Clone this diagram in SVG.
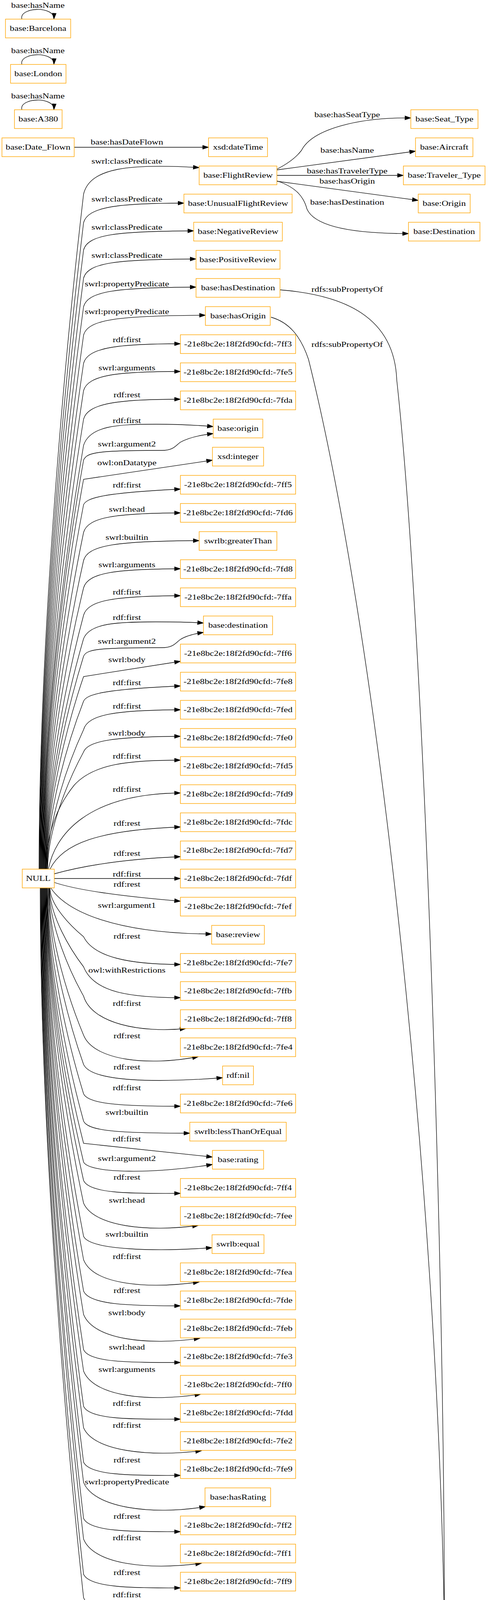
<svg xmlns="http://www.w3.org/2000/svg" width="1265" height="4439" viewBox="0 0 1265 4439">
<style>
text{font-family:"Liberation Serif","Times New Roman",serif;font-size:18.67px;text-anchor:middle;fill:#000}
.n rect{fill:#fff;stroke:#ffa500;stroke-width:1.4}
#edges path{fill:none;stroke:#000;stroke-width:1.3;marker-end:url(#a)}
</style>
<defs>
<marker id="a" markerWidth="15" markerHeight="10" refX="15" refY="5" orient="auto" markerUnits="userSpaceOnUse" overflow="visible"><path d="M0,0 L15,5 L0,10 z" fill="#000" stroke="#000" stroke-width="1"/></marker>
</defs>
<rect width="1265" height="4439" fill="#fff"/>
<g id="edges">
<path d="M56,49 C48,18 140,14 138,49"/>
<path d="M56,165 C48,134 140,130 138,165"/>
<path d="M56,281 C48,250 140,246 138,281"/>
<path d="M190,377 L534,377"/>
<path d="M709,433 C745,415 762,398 772,385 C800,330 920,300 1052,302"/>
<path d="M709,435 L1064,387"/>
<path d="M709,449 L1033,449"/>
<path d="M709,464 L1071,513"/>
<path d="M709,463 C760,480 778,505 786,535 C810,590 950,598 1046,598"/>
<path d="M717,742 C880,755 1010,810 1016,973 C1085,1600 1138,3200 1138,4169"/>
<path d="M694,812 C740,825 770,860 790,920 C960,1600 1120,3000 1138,4169"/>
<path d="M691,4193 L1018,4193"/>
<path d="M707,4254 C800,4238 900,4230 1018,4216"/>
<path d="M726,4327 C850,4300 1040,4260 1100,4217"/>
<path d="M165,4409 L464,4409"/>
<path d="M100,2225 C100,1620 169.5,877 214,497 C230,430 330,418 510,429"/>
<path d="M101,2225 C101,1646 170,934 214,570 C225,530 300,520 471,520"/>
<path d="M102,2225 C102,1670 170.3,989 214,640 C225,600 300,592 496,591"/>
<path d="M103,2225 C103,1695 170.7,1045 214,712 C225,672 300,664 502,663"/>
<path d="M104,2225 C104,1721 171,1102 214,785 C225,745 300,736 502,735"/>
<path d="M105,2225 C105,1747 171.5,1159 214,858 C225,818 300,808 526,807"/>
<path d="M106,2225 C106,1772 172,1215 214,930 C225,890 300,880 462,880"/>
<path d="M107,2225 C107,1796 172.3,1269.5 214,1000 C225,960 300,951 462,951"/>
<path d="M108,2225 C108,1822 172.7,1326 214,1073 C225,1033 300,1022 462,1022"/>
<path d="M109,2225 C109,1845 173,1379 214,1140 C230,1090 300,1086 400,1086 C470,1086 510,1089 546,1092"/>
<path d="M110,2225 C110,1859 173.4,1408 214,1178 C222,1158 250,1153 415,1153 C445,1153 450,1140 462,1132 C480,1122 510,1114 546,1110"/>
<path d="M111,2225 C111,1876 173.8,1447 214,1227 L544,1178"/>
<path d="M112,2225 C112,1898 174.2,1497 214,1292 C222,1275 260,1262 462,1252"/>
<path d="M113,2225 C113,1923 174.6,1553 214,1363 C225,1323 300,1314 462,1313"/>
<path d="M114,2225 C114,1948 175,1609 214,1435 C225,1395 300,1385 510,1384"/>
<path d="M115,2225 C115,1973 175.4,1663 214,1505 C225,1465 300,1457 462,1456"/>
<path d="M116,2225 C116,1997 175.8,1718 214,1575 C225,1535 300,1526 462,1525"/>
<path d="M117,2225 C117,2018 176.2,1765 214,1635 C230,1595 300,1592 400,1592 C460,1592 495,1593 521,1595"/>
<path d="M118,2225 C118,2034 176.6,1800 214,1680 C222,1662 250,1658 415,1658 C445,1658 450,1645 462,1637 C478,1627 500,1622 521,1619"/>
<path d="M119,2225 C119,2052 177,1840 214,1732 L462,1693"/>
<path d="M120,2225 C120,2074 177.3,1890 214,1795 C222,1778 260,1765 462,1756"/>
<path d="M121,2225 C121,2100 177.7,1946 214,1868 C225,1828 300,1818 462,1817"/>
<path d="M122,2225 C122,2120 178,1991 214,1925 C225,1895 300,1886 462,1885"/>
<path d="M116,2225 C122,2120 150,2060 190,2010 C240,1955 330,1946 462,1946"/>
<path d="M124,2225 C140,2140 220,2032 462,2030"/>
<path d="M128,2225 C160,2160 250,2125 462,2117"/>
<path d="M139,2237 C200,2220 300,2200 462,2193"/>
<path d="M139,2249 L462,2249"/>
<path d="M139,2259 C200,2280 330,2296 462,2307"/>
<path d="M130,2273 C170,2335 300,2390 542,2391"/>
<path d="M128,2273 C128,2317 180.5,2370.5 214,2398 C240,2450 330,2469 462,2469"/>
<path d="M127,2273 C127,2343.7 180,2430.6 214,2475 C240,2540 330,2554 462,2554"/>
<path d="M126,2273 C126,2370 179.7,2489 214,2550 C235,2620 360,2645 476,2633"/>
<path d="M125,2273 C125,2405 179.3,2567 214,2650 C240,2715 380,2730 508,2705"/>
<path d="M124,2273 C124,2431 179,2625.6 214,2725 C235,2770 400,2772 570,2759"/>
<path d="M122,2273 C122,2457.5 178.1,2684 214,2800 C225,2825 300,2832 462,2832"/>
<path d="M121,2273 C121,2482 177.7,2739 214,2870 C225,2895 300,2901 486,2901"/>
<path d="M120,2273 C120,2502 177.3,2783 214,2927 L544,2962"/>
<path d="M119,2273 C119,2518.7 177,2820.6 214,2975 C230,3005 400,3005 544,2981"/>
<path d="M118,2273 C118,2535 176.6,2857 214,3022 C228,3055 330,3056 462,3055"/>
<path d="M117,2273 C117,2555.5 176.2,2902.5 214,3080 C240,3140 380,3155 508,3137"/>
<path d="M116,2273 C116,2585 175.8,2969 214,3165 C230,3200 400,3205 543,3194"/>
<path d="M115,2273 C115,2606 175.4,3015.6 214,3225 C240,3290 380,3300 510,3282"/>
<path d="M114,2273 C114,2634 175,3078 214,3305 C228,3340 330,3343 462,3343"/>
<path d="M113,2273 C113,2655 174.6,3124.8 214,3365 C240,3430 380,3445 512,3426"/>
<path d="M112,2273 C112,2687 174.2,3195 214,3455 C228,3488 330,3488 462,3488"/>
<path d="M111,2273 C111,2706 173.8,3238 214,3510 C240,3575 380,3590 514,3569"/>
<path d="M110,2273 C110,2737.5 173.4,3308 214,3600 C228,3633 330,3634 462,3633"/>
<path d="M109,2273 C109,2756.7 173,3351 214,3655 C240,3715 380,3730 516,3714"/>
<path d="M108,2273 C108,2787.5 172.7,3419.6 214,3743 C228,3776 330,3778 462,3777"/>
<path d="M107,2273 C107,2805.7 172.3,3460 214,3795 C240,3860 390,3880 526,3857"/>
<path d="M106,2273 C106,2838 172,3532 214,3887 C228,3920 330,3922 462,3921"/>
<path d="M105,2273 C105,2856.5 171.5,3573 214,3940 C240,4005 380,4020 516,4002"/>
<path d="M104,2273 C104,2888 171,3643.5 214,4030 C228,4063 330,4066 462,4065"/>
<path d="M103,2273 C103,2909 170.7,3690 214,4090 C240,4150 380,4170 519,4145"/>
</g>
<g id="edge-labels">
<text transform="translate(97,20) scale(1.27,1)">base:hasName</text>
<text transform="translate(97,136) scale(1.27,1)">base:hasName</text>
<text transform="translate(97,252) scale(1.27,1)">base:hasName</text>
<text transform="translate(889,300) scale(1.27,1)">base:hasSeatType</text>
<text transform="translate(325,370) scale(1.27,1)">base:hasDateFlown</text>
<text transform="translate(889,391) scale(1.27,1)">base:hasName</text>
<text transform="translate(889,444) scale(1.27,1)">base:hasTravelerType</text>
<text transform="translate(889,470) scale(1.27,1)">base:hasOrigin</text>
<text transform="translate(889,524) scale(1.27,1)">base:hasDestination</text>
<text transform="translate(889,747) scale(1.27,1)">rdfs:subPropertyOf</text>
<text transform="translate(889,888) scale(1.27,1)">rdfs:subPropertyOf</text>
<text transform="translate(889,4188) scale(1.27,1)">rdfs:subPropertyOf</text>
<text transform="translate(889,4214) scale(1.27,1)">rdfs:subPropertyOf</text>
<text transform="translate(889,4267) scale(1.27,1)">rdfs:subPropertyOf</text>
<text transform="translate(325,4404) scale(1.27,1)">base:hasRating</text>
<text transform="translate(325,419) scale(1.27,1)">swrl:classPredicate</text>
<text transform="translate(325,516) scale(1.27,1)">swrl:classPredicate</text>
<text transform="translate(325,588) scale(1.27,1)">swrl:classPredicate</text>
<text transform="translate(325,660) scale(1.27,1)">swrl:classPredicate</text>
<text transform="translate(325,733) scale(1.27,1)">swrl:propertyPredicate</text>
<text transform="translate(325,804) scale(1.27,1)">swrl:propertyPredicate</text>
<text transform="translate(325,876) scale(1.27,1)">rdf:first</text>
<text transform="translate(325,948) scale(1.27,1)">swrl:arguments</text>
<text transform="translate(325,1017) scale(1.27,1)">rdf:rest</text>
<text transform="translate(325,1083) scale(1.27,1)">rdf:first</text>
<text transform="translate(325,1143) scale(1.27,1)">swrl:argument2</text>
<text transform="translate(325,1191) scale(1.27,1)">owl:onDatatype</text>
<text transform="translate(325,1248) scale(1.27,1)">rdf:first</text>
<text transform="translate(325,1310) scale(1.27,1)">swrl:head</text>
<text transform="translate(325,1382) scale(1.27,1)">swrl:builtin</text>
<text transform="translate(325,1452) scale(1.27,1)">swrl:arguments</text>
<text transform="translate(325,1522) scale(1.27,1)">rdf:first</text>
<text transform="translate(325,1587) scale(1.27,1)">rdf:first</text>
<text transform="translate(325,1648) scale(1.27,1)">swrl:argument2</text>
<text transform="translate(325,1695) scale(1.27,1)">swrl:body</text>
<text transform="translate(325,1754) scale(1.27,1)">rdf:first</text>
<text transform="translate(325,1814) scale(1.27,1)">rdf:first</text>
<text transform="translate(325,1883) scale(1.27,1)">swrl:body</text>
<text transform="translate(325,1942) scale(1.27,1)">rdf:first</text>
<text transform="translate(325,2027) scale(1.27,1)">rdf:first</text>
<text transform="translate(325,2114) scale(1.27,1)">rdf:rest</text>
<text transform="translate(325,2191) scale(1.27,1)">rdf:rest</text>
<text transform="translate(325,2244) scale(1.27,1)">rdf:first</text>
<text transform="translate(325,2270) scale(1.27,1)">rdf:rest</text>
<text transform="translate(325,2324) scale(1.27,1)">swrl:argument1</text>
<text transform="translate(325,2403) scale(1.27,1)">rdf:rest</text>
<text transform="translate(325,2490) scale(1.27,1)">owl:withRestrictions</text>
<text transform="translate(325,2575) scale(1.27,1)">rdf:first</text>
<text transform="translate(325,2658) scale(1.27,1)">rdf:rest</text>
<text transform="translate(325,2738) scale(1.27,1)">rdf:rest</text>
<text transform="translate(325,2791) scale(1.27,1)">rdf:first</text>
<text transform="translate(325,2854) scale(1.27,1)">swrl:builtin</text>
<text transform="translate(325,2922) scale(1.27,1)">rdf:first</text>
<text transform="translate(325,2972) scale(1.27,1)">swrl:argument2</text>
<text transform="translate(325,3020) scale(1.27,1)">rdf:rest</text>
<text transform="translate(325,3079) scale(1.27,1)">swrl:head</text>
<text transform="translate(325,3166) scale(1.27,1)">swrl:builtin</text>
<text transform="translate(325,3223) scale(1.27,1)">rdf:first</text>
<text transform="translate(325,3310) scale(1.27,1)">rdf:rest</text>
<text transform="translate(325,3367) scale(1.27,1)">swrl:body</text>
<text transform="translate(325,3455) scale(1.27,1)">swrl:head</text>
<text transform="translate(325,3512) scale(1.27,1)">swrl:arguments</text>
<text transform="translate(325,3599) scale(1.27,1)">rdf:first</text>
<text transform="translate(325,3655) scale(1.27,1)">rdf:first</text>
<text transform="translate(325,3744) scale(1.27,1)">rdf:rest</text>
<text transform="translate(325,3800) scale(1.27,1)">swrl:propertyPredicate</text>
<text transform="translate(325,3888) scale(1.27,1)">rdf:rest</text>
<text transform="translate(325,3943) scale(1.27,1)">rdf:first</text>
<text transform="translate(325,4032) scale(1.27,1)">rdf:rest</text>
<text transform="translate(325,4089) scale(1.27,1)">rdf:first</text>
</g>
<g id="n-Barcelona" class="n"><rect x="14" y="49" width="167" height="48"/><text transform="translate(97.5,79) scale(1.27,1)">base:Barcelona</text></g>
<g id="n-London" class="n"><rect x="27" y="165" width="142" height="48"/><text transform="translate(98,195) scale(1.27,1)">base:London</text></g>
<g id="n-A380" class="n"><rect x="37" y="281" width="122" height="48"/><text transform="translate(98,311) scale(1.27,1)">base:A380</text></g>
<g id="n-Date_Flown" class="n"><rect x="5" y="353" width="185" height="48"/><text transform="translate(97.5,383) scale(1.27,1)">base:Date_Flown</text></g>
<g id="n-dateTime" class="n"><rect x="534" y="353" width="151" height="48"/><text transform="translate(609.5,383) scale(1.27,1)">xsd:dateTime</text></g>
<g id="n-Seat_Type" class="n"><rect x="1052" y="281" width="172" height="48"/><text transform="translate(1138,311) scale(1.27,1)">base:Seat_Type</text></g>
<g id="n-Aircraft" class="n"><rect x="1064" y="353" width="147" height="48"/><text transform="translate(1137.5,383) scale(1.27,1)">base:Aircraft</text></g>
<g id="n-FlightReview" class="n"><rect x="510" y="425" width="199" height="48"/><text transform="translate(609.5,455) scale(1.27,1)">base:FlightReview</text></g>
<g id="n-Traveler_Type" class="n"><rect x="1033" y="425" width="209" height="48"/><text transform="translate(1137.5,455) scale(1.27,1)">base:Traveler_Type</text></g>
<g id="n-Origin" class="n"><rect x="1071" y="497" width="133" height="48"/><text transform="translate(1137.5,527) scale(1.27,1)">base:Origin</text></g>
<g id="n-Destination" class="n"><rect x="1046" y="569" width="183" height="48"/><text transform="translate(1137.5,599) scale(1.27,1)">base:Destination</text></g>
<g id="n-UnusualFlightReview" class="n"><rect x="471" y="497" width="277" height="48"/><text transform="translate(609.5,527) scale(1.27,1)">base:UnusualFlightReview</text></g>
<g id="n-NegativeReview" class="n"><rect x="496" y="569" width="227" height="48"/><text transform="translate(609.5,599) scale(1.27,1)">base:NegativeReview</text></g>
<g id="n-PositiveReview" class="n"><rect x="502" y="641" width="215" height="48"/><text transform="translate(609.5,671) scale(1.27,1)">base:PositiveReview</text></g>
<g id="n-hasDestination" class="n"><rect x="502" y="713" width="215" height="48"/><text transform="translate(609.5,743) scale(1.27,1)">base:hasDestination</text></g>
<g id="n-hasOrigin" class="n"><rect x="526" y="785" width="166" height="48"/><text transform="translate(609.5,815) scale(1.27,1)">base:hasOrigin</text></g>
<g id="n-7ff3" class="n"><rect x="462" y="857" width="295" height="48"/><text transform="translate(609.5,887) scale(1.27,1)">-21e8bc2e:18f2fd90cfd:-7ff3</text></g>
<g id="n-7fe5" class="n"><rect x="462" y="929" width="295" height="48"/><text transform="translate(609.5,959) scale(1.27,1)">-21e8bc2e:18f2fd90cfd:-7fe5</text></g>
<g id="n-7fda" class="n"><rect x="462" y="1001" width="295" height="48"/><text transform="translate(609.5,1031) scale(1.27,1)">-21e8bc2e:18f2fd90cfd:-7fda</text></g>
<g id="n-origin" class="n"><rect x="546" y="1073" width="127" height="48"/><text transform="translate(609.5,1103) scale(1.27,1)">base:origin</text></g>
<g id="n-integer" class="n"><rect x="544" y="1145" width="131" height="48"/><text transform="translate(609.5,1175) scale(1.27,1)">xsd:integer</text></g>
<g id="n-7ff5" class="n"><rect x="462" y="1217" width="295" height="48"/><text transform="translate(609.5,1247) scale(1.27,1)">-21e8bc2e:18f2fd90cfd:-7ff5</text></g>
<g id="n-7fd6" class="n"><rect x="462" y="1289" width="295" height="48"/><text transform="translate(609.5,1319) scale(1.27,1)">-21e8bc2e:18f2fd90cfd:-7fd6</text></g>
<g id="n-greaterThan" class="n"><rect x="510" y="1361" width="199" height="48"/><text transform="translate(609.5,1391) scale(1.27,1)">swrlb:greaterThan</text></g>
<g id="n-7fd8" class="n"><rect x="462" y="1433" width="295" height="48"/><text transform="translate(609.5,1463) scale(1.27,1)">-21e8bc2e:18f2fd90cfd:-7fd8</text></g>
<g id="n-7ffa" class="n"><rect x="462" y="1505" width="295" height="48"/><text transform="translate(609.5,1535) scale(1.27,1)">-21e8bc2e:18f2fd90cfd:-7ffa</text></g>
<g id="n-destination" class="n"><rect x="521" y="1577" width="177" height="48"/><text transform="translate(609.5,1607) scale(1.27,1)">base:destination</text></g>
<g id="n-7ff6" class="n"><rect x="462" y="1649" width="295" height="48"/><text transform="translate(609.5,1679) scale(1.27,1)">-21e8bc2e:18f2fd90cfd:-7ff6</text></g>
<g id="n-7fe8" class="n"><rect x="462" y="1721" width="295" height="48"/><text transform="translate(609.5,1751) scale(1.27,1)">-21e8bc2e:18f2fd90cfd:-7fe8</text></g>
<g id="n-7fed" class="n"><rect x="462" y="1793" width="295" height="48"/><text transform="translate(609.5,1823) scale(1.27,1)">-21e8bc2e:18f2fd90cfd:-7fed</text></g>
<g id="n-7fe0" class="n"><rect x="462" y="1865" width="295" height="48"/><text transform="translate(609.5,1895) scale(1.27,1)">-21e8bc2e:18f2fd90cfd:-7fe0</text></g>
<g id="n-7fd5" class="n"><rect x="462" y="1937" width="295" height="48"/><text transform="translate(609.5,1967) scale(1.27,1)">-21e8bc2e:18f2fd90cfd:-7fd5</text></g>
<g id="n-7fd9" class="n"><rect x="462" y="2009" width="295" height="48"/><text transform="translate(609.5,2039) scale(1.27,1)">-21e8bc2e:18f2fd90cfd:-7fd9</text></g>
<g id="n-7fdc" class="n"><rect x="462" y="2081" width="295" height="48"/><text transform="translate(609.5,2111) scale(1.27,1)">-21e8bc2e:18f2fd90cfd:-7fdc</text></g>
<g id="n-7fd7" class="n"><rect x="462" y="2153" width="295" height="48"/><text transform="translate(609.5,2183) scale(1.27,1)">-21e8bc2e:18f2fd90cfd:-7fd7</text></g>
<g id="n-NULL" class="n"><rect x="57" y="2225" width="82" height="48"/><text transform="translate(98,2255) scale(1.27,1)">NULL</text></g>
<g id="n-7fdf" class="n"><rect x="462" y="2225" width="295" height="48"/><text transform="translate(609.5,2255) scale(1.27,1)">-21e8bc2e:18f2fd90cfd:-7fdf</text></g>
<g id="n-7fef" class="n"><rect x="462" y="2297" width="295" height="48"/><text transform="translate(609.5,2327) scale(1.27,1)">-21e8bc2e:18f2fd90cfd:-7fef</text></g>
<g id="n-review" class="n"><rect x="542" y="2369" width="135" height="48"/><text transform="translate(609.5,2399) scale(1.27,1)">base:review</text></g>
<g id="n-7fe7" class="n"><rect x="462" y="2441" width="295" height="48"/><text transform="translate(609.5,2471) scale(1.27,1)">-21e8bc2e:18f2fd90cfd:-7fe7</text></g>
<g id="n-7ffb" class="n"><rect x="462" y="2513" width="295" height="48"/><text transform="translate(609.5,2543) scale(1.27,1)">-21e8bc2e:18f2fd90cfd:-7ffb</text></g>
<g id="n-7ff8" class="n"><rect x="462" y="2585" width="295" height="48"/><text transform="translate(609.5,2615) scale(1.27,1)">-21e8bc2e:18f2fd90cfd:-7ff8</text></g>
<g id="n-7fe4" class="n"><rect x="462" y="2657" width="295" height="48"/><text transform="translate(609.5,2687) scale(1.27,1)">-21e8bc2e:18f2fd90cfd:-7fe4</text></g>
<g id="n-nil" class="n"><rect x="570" y="2729" width="79" height="48"/><text transform="translate(609.5,2759) scale(1.27,1)">rdf:nil</text></g>
<g id="n-7fe6" class="n"><rect x="462" y="2801" width="295" height="48"/><text transform="translate(609.5,2831) scale(1.27,1)">-21e8bc2e:18f2fd90cfd:-7fe6</text></g>
<g id="n-lessThanOrEqual" class="n"><rect x="486" y="2873" width="247" height="48"/><text transform="translate(609.5,2903) scale(1.27,1)">swrlb:lessThanOrEqual</text></g>
<g id="n-rating" class="n"><rect x="544" y="2945" width="131" height="48"/><text transform="translate(609.5,2975) scale(1.27,1)">base:rating</text></g>
<g id="n-7ff4" class="n"><rect x="462" y="3017" width="295" height="48"/><text transform="translate(609.5,3047) scale(1.27,1)">-21e8bc2e:18f2fd90cfd:-7ff4</text></g>
<g id="n-7fee" class="n"><rect x="462" y="3089" width="295" height="48"/><text transform="translate(609.5,3119) scale(1.27,1)">-21e8bc2e:18f2fd90cfd:-7fee</text></g>
<g id="n-equal" class="n"><rect x="543" y="3161" width="133" height="48"/><text transform="translate(609.5,3191) scale(1.27,1)">swrlb:equal</text></g>
<g id="n-7fea" class="n"><rect x="462" y="3233" width="295" height="48"/><text transform="translate(609.5,3263) scale(1.27,1)">-21e8bc2e:18f2fd90cfd:-7fea</text></g>
<g id="n-7fde" class="n"><rect x="462" y="3305" width="295" height="48"/><text transform="translate(609.5,3335) scale(1.27,1)">-21e8bc2e:18f2fd90cfd:-7fde</text></g>
<g id="n-7feb" class="n"><rect x="462" y="3377" width="295" height="48"/><text transform="translate(609.5,3407) scale(1.27,1)">-21e8bc2e:18f2fd90cfd:-7feb</text></g>
<g id="n-7fe3" class="n"><rect x="462" y="3449" width="295" height="48"/><text transform="translate(609.5,3479) scale(1.27,1)">-21e8bc2e:18f2fd90cfd:-7fe3</text></g>
<g id="n-7ff0" class="n"><rect x="462" y="3521" width="295" height="48"/><text transform="translate(609.5,3551) scale(1.27,1)">-21e8bc2e:18f2fd90cfd:-7ff0</text></g>
<g id="n-7fdd" class="n"><rect x="462" y="3593" width="295" height="48"/><text transform="translate(609.5,3623) scale(1.27,1)">-21e8bc2e:18f2fd90cfd:-7fdd</text></g>
<g id="n-7fe2" class="n"><rect x="462" y="3665" width="295" height="48"/><text transform="translate(609.5,3695) scale(1.27,1)">-21e8bc2e:18f2fd90cfd:-7fe2</text></g>
<g id="n-7fe9" class="n"><rect x="462" y="3737" width="295" height="48"/><text transform="translate(609.5,3767) scale(1.27,1)">-21e8bc2e:18f2fd90cfd:-7fe9</text></g>
<g id="n-hasRating" class="n"><rect x="525" y="3809" width="168" height="48"/><text transform="translate(609.5,3839) scale(1.27,1)">base:hasRating</text></g>
<g id="n-7ff2" class="n"><rect x="462" y="3881" width="295" height="48"/><text transform="translate(609.5,3911) scale(1.27,1)">-21e8bc2e:18f2fd90cfd:-7ff2</text></g>
<g id="n-7ff1" class="n"><rect x="462" y="3953" width="295" height="48"/><text transform="translate(609.5,3983) scale(1.27,1)">-21e8bc2e:18f2fd90cfd:-7ff1</text></g>
<g id="n-7ff9" class="n"><rect x="462" y="4025" width="295" height="48"/><text transform="translate(609.5,4055) scale(1.27,1)">-21e8bc2e:18f2fd90cfd:-7ff9</text></g>
<g id="n-7fdb" class="n"><rect x="462" y="4097" width="295" height="48"/><text transform="translate(609.5,4127) scale(1.27,1)">-21e8bc2e:18f2fd90cfd:-7fdb</text></g>
<g id="n-hasName" class="n"><rect x="528" y="4169" width="163" height="48"/><text transform="translate(609.5,4199) scale(1.27,1)">base:hasName</text></g>
<g id="n-topObjectProperty" class="n"><rect x="1018" y="4169" width="240" height="48"/><text transform="translate(1138,4199) scale(1.27,1)">owl:topObjectProperty</text></g>
<g id="n-hasSeatType" class="n"><rect x="512" y="4241" width="195" height="48"/><text transform="translate(609.5,4271) scale(1.27,1)">base:hasSeatType</text></g>
<g id="n-hasTravelerType" class="n"><rect x="493" y="4313" width="233" height="48"/><text transform="translate(609.5,4343) scale(1.27,1)">base:hasTravelerType</text></g>
<g id="n-Rating" class="n"><rect x="31" y="4385" width="134" height="48"/><text transform="translate(98,4415) scale(1.27,1)">base:Rating</text></g>
<g id="n-7ffc" class="n"><rect x="464" y="4385" width="291" height="48"/><text transform="translate(609.5,4415) scale(1.27,1)">-21e8bc2e:18f2fd90cfd:-7ffc</text></g>
</svg>
